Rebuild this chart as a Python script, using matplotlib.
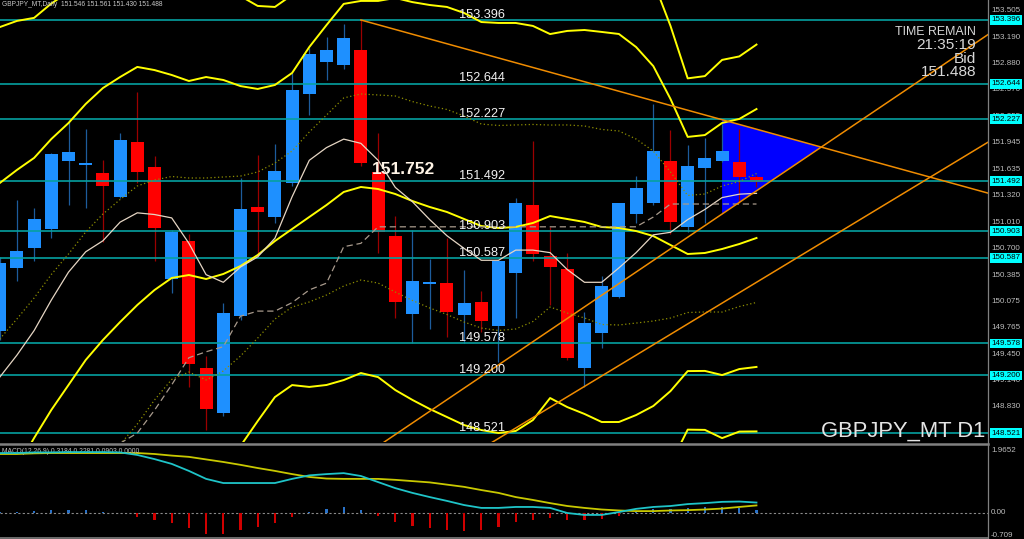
import matplotlib
matplotlib.use("Agg")
import matplotlib.pyplot as plt
from matplotlib import font_manager
from matplotlib.lines import Line2D
from matplotlib.patches import Polygon
import numpy as np

plt.rcParams["font.family"] = ["Liberation Sans", "DejaVu Sans"]
_names = {f.name for f in font_manager.fontManager.ttflist}
NARROW = "Liberation Sans Narrow" if "Liberation Sans Narrow" in _names else "Liberation Sans"

# ===================== PRICE DATA (GBPJPY daily, oldest first) =====================
opens = [149.725, 150.469, 150.705, 150.929, 151.731, 151.684, 151.590, 151.307, 151.956, 151.661,
         150.339, 150.787, 149.288, 148.757, 149.902, 151.189, 151.070, 151.472, 152.522, 152.900,
         152.865, 153.042, 151.602, 150.846, 149.925, 150.280, 150.291, 149.914, 150.067, 149.784,
         150.409, 151.212, 150.610, 150.456, 149.288, 149.701, 150.126, 151.106, 151.236, 151.731,
         150.953, 151.649, 151.731, 151.720, 151.546]
highs = [150.600, 151.271, 151.177, 151.826, 152.215, 152.109, 151.743, 152.062, 152.546, 151.791,
         150.917, 150.870, 149.430, 150.055, 151.531, 151.802, 151.932, 152.770, 153.065, 153.195,
         153.349, 153.396, 152.062, 151.082, 150.917, 150.575, 150.823, 150.445, 150.197, 150.560,
         151.295, 151.968, 150.953, 150.645, 149.949, 150.374, 151.240, 151.554, 152.404, 152.097,
         151.920, 152.003, 152.168, 152.109, 151.561]
lows = [149.620, 150.315, 150.551, 150.823, 151.212, 151.177, 150.775, 151.295, 151.472, 150.551,
        150.173, 149.064, 148.556, 148.720, 149.855, 150.598, 150.999, 151.436, 152.274, 152.688,
        152.818, 151.672, 150.645, 149.878, 149.583, 149.748, 149.654, 149.583, 149.713, 149.359,
        149.878, 150.551, 150.032, 149.382, 149.064, 149.528, 150.120, 150.999, 151.212, 150.870,
        150.893, 150.999, 151.720, 151.236, 151.430]
closes = [150.528, 150.669, 151.047, 151.814, 151.838, 151.708, 151.436, 151.979, 151.602, 150.941,
          150.893, 149.335, 148.804, 149.937, 151.165, 151.129, 151.614, 152.570, 152.994, 153.042,
          153.183, 151.708, 150.893, 150.067, 150.315, 150.303, 149.949, 150.055, 149.843, 150.551,
          151.236, 150.634, 150.480, 149.406, 149.819, 150.256, 151.236, 151.413, 151.850, 151.011,
          151.672, 151.767, 151.850, 151.543, 151.488]

bb_mid = [147.789, 148.108, 148.462, 148.793, 149.088, 149.383, 149.619, 149.831, 150.032, 150.209,
          150.351, 150.386, 150.339, 150.398, 150.492, 150.622, 150.787, 150.929, 151.071, 151.212,
          151.366, 151.425, 151.401, 151.342, 151.259, 151.189, 151.130, 151.047, 150.964, 150.941,
          150.953, 151.000, 151.082, 151.047, 151.012, 150.953, 150.941, 150.905, 150.846, 150.740,
          150.634, 150.646, 150.693, 150.752, 150.823]
bb_sd = [1.841, 1.759, 1.653, 1.599, 1.546, 1.511, 1.487, 1.446, 1.405, 1.298,
         1.198, 1.145, 1.192, 1.145, 1.062, 0.980, 0.921, 0.921, 1.003, 1.062,
         1.110, 1.098, 1.110, 1.157, 1.174, 1.192, 1.210, 1.216, 1.204, 1.210,
         1.204, 1.163, 1.074, 1.110, 1.133, 1.151, 1.145, 1.086, 1.003, 0.862,
         0.691, 0.696, 0.744, 0.738, 0.761]

tenkan = [149.18, 149.44, 149.73, 150.09, 150.42, 150.66, 150.79, 151.01, 151.12, 151.10,
          151.06, 150.76, 150.39, 150.30, 150.48, 150.60, 150.82, 151.31, 151.74, 151.89,
          151.99, 151.94, 151.74, 151.42, 151.25, 151.04, 150.85, 150.70, 150.56, 150.56,
          150.68, 150.68, 150.65, 150.45, 150.30, 150.30, 150.47, 150.65, 150.86, 150.89,
          151.04, 151.16, 151.30, 151.34, 151.35]
kijun_start = 7
kijun = [148.40, 148.52, 148.79, 149.09, 149.41, 149.48, 149.54, 149.90, 149.96, 149.96,
         150.06, 150.21, 150.29, 150.72, 150.76, 150.955, 150.955, 150.955, 150.955, 150.955,
         150.955, 150.955, 150.955, 150.955, 150.955, 150.955, 150.955, 150.955, 150.955, 150.955,
         150.955, 151.07, 151.224, 151.224, 151.224, 151.224, 151.224, 151.224]

levels = [153.396, 152.644, 152.227, 151.492, 150.903, 150.587, 149.578, 149.200, 148.521]
axis_ticks = [153.505, 153.190, 152.880, 152.570, 152.255, 151.945, 151.635, 151.320, 151.010,
              150.700, 150.385, 150.075, 149.765, 149.450, 149.140, 148.830]

# trend lines: two anchor points each (bar index, price)
res_line = ([21, 44], [153.396, 152.107])
sup_hi = ([22, 44], [148.366, 151.380])
sup_lo = ([29, 44], [148.457, 150.300])
triangle_from = 42

# MACD(12,26,9)
macd = [1.87, 1.87, 1.89, 1.89, 1.90, 1.90, 1.90, 1.89, 1.81, 1.68,
        1.53, 1.31, 1.06, 0.93, 0.93, 0.93, 0.93, 1.06, 1.17, 1.21,
        1.24, 1.15, 0.96, 0.77, 0.62, 0.49, 0.37, 0.24, 0.15, 0.15,
        0.18, 0.18, 0.15, -0.01, -0.07, -0.07, 0.02, 0.12, 0.18, 0.21,
        0.27, 0.30, 0.34, 0.35, 0.3184]
signal = [1.84, 1.84, 1.86, 1.87, 1.87, 1.87, 1.87, 1.87, 1.87, 1.84,
          1.79, 1.75, 1.67, 1.59, 1.50, 1.40, 1.31, 1.21, 1.12, 1.07,
          1.06, 1.06, 1.06, 1.03, 0.99, 0.95, 0.88, 0.81, 0.71, 0.62,
          0.49, 0.40, 0.30, 0.21, 0.15, 0.10, 0.07, 0.05, 0.05, 0.07,
          0.08, 0.10, 0.13, 0.18, 0.2281]
hist = [0.01, 0.02, 0.05, 0.09, 0.09, 0.08, 0.02, -0.01, -0.13, -0.23,
        -0.31, -0.48, -0.67, -0.67, -0.54, -0.44, -0.31, -0.13, 0.02, 0.12,
        0.19, 0.08, -0.10, -0.28, -0.42, -0.49, -0.54, -0.56, -0.54, -0.46,
        -0.28, -0.23, -0.18, -0.23, -0.23, -0.20, -0.10, 0.02, 0.11, 0.11,
        0.15, 0.18, 0.19, 0.16, 0.0903]
macd_ticks = [1.9652, 0.0, -0.709]

# ===================== FIGURE =====================
W, H = 1024, 539
XLIM = (0.017, 57.46)
fig = plt.figure(figsize=(W / 100, H / 100), dpi=100, facecolor="black")
ax = fig.add_axes([0, (H - 442) / H, 988 / W, 442 / H])
mx = fig.add_axes([0, 1 / H, 988 / W, 93 / H])
for a in (ax, mx):
    a.set_facecolor("black")
    a.set_xticks([])
    a.set_yticks([])
    for s in a.spines.values():
        s.set_visible(False)
    a.set_xlim(*XLIM)
ax.set_ylim(148.415, 153.632)
mx.set_ylim(-0.793, 2.122)

idx = np.arange(len(opens))
o, h, l, c = map(np.array, (opens, highs, lows, closes))
up = c >= o

# ===================== CANDLES =====================
wick_col = np.where(up, "#1d5c9c", "#9c0000")
body_col = np.where(up, "#1e90ff", "#ff0000")
ax.vlines(idx, l, h, colors=wick_col, lw=0.9, zorder=3)
ax.bar(idx, np.maximum(np.abs(c - o), 0.014), bottom=np.minimum(o, c),
       width=0.75, color=body_col, linewidth=0, zorder=4)

# ===================== BOLLINGER =====================
mid = np.array(bb_mid)
sd = np.array(bb_sd)
ax.plot(idx, mid, color="#ffff00", lw=1.4, zorder=6)
for k in (2, 3):
    ax.plot(idx, mid + k * sd, color="#ffff00", lw=1.4, zorder=6)
    ax.plot(idx, mid - k * sd, color="#ffff00", lw=1.4, zorder=6)
for k in (1, -1):
    ax.plot(idx, mid + k * sd, color="#8f8f00", lw=0.9, ls=(0, (1, 2)), zorder=6)

# ===================== ICHIMOKU-LIKE LINES =====================
ax.plot(idx, tenkan, color="#e6d6c4", lw=0.9, zorder=6)
ax.plot(np.arange(kijun_start, kijun_start + len(kijun)), kijun,
        color="#a89a8c", lw=0.9, ls=(0, (5, 3)), zorder=6)

# ===================== HORIZONTAL LEVELS =====================
for lv in levels:
    ax.axhline(lv, color="#06a0a0", lw=1.2, zorder=5)
    ax.annotate(f"{lv:.3f}", (26.70, lv), xytext=(0, 1.6), textcoords="offset points",
                color="#f2f2f2", fontsize=9.2, va="baseline", ha="left", zorder=9)

# ===================== TREND LINES + TRIANGLE =====================
def line_at(pts, x):
    (x0, x1), (y0, y1) = pts
    return y0 + (y1 - y0) * (x - x0) / (x1 - x0)

xe = XLIM[1]
ax.plot([res_line[0][0], xe], [res_line[1][0], line_at(res_line, xe)],
        color="#f08c00", lw=1.1, zorder=7)
for pts in (sup_hi, sup_lo):
    ax.plot([0, xe], [line_at(pts, 0), line_at(pts, xe)], color="#f08c00", lw=1.1, zorder=7)

# apex where the falling and rising lines meet
s1 = (res_line[1][1] - res_line[1][0]) / (res_line[0][1] - res_line[0][0])
s2 = (sup_hi[1][1] - sup_hi[1][0]) / (sup_hi[0][1] - sup_hi[0][0])
xa = (line_at(sup_hi, 0) - line_at(res_line, 0)) / (s1 - s2)
tri = Polygon([(triangle_from, line_at(res_line, triangle_from)),
               (xa, line_at(res_line, xa)),
               (triangle_from, line_at(sup_hi, triangle_from))],
              closed=True, facecolor="#0000ff", edgecolor="none", zorder=2)
ax.add_patch(tri)

# ===================== TEXTS =====================
ax.text(21.61, 151.637, "151.752", color="#fff4e6", fontsize=12.5, fontweight="bold",
        va="center", ha="left", zorder=9)
fig.text(2 / W, 1 - 4.5 / H, "GBPJPY_MT,Daily  151.546 151.561 151.430 151.488",
         color="#c8c8c8", fontsize=4.8, va="center", ha="left")
fig.text(976 / W, 1 - 32 / H, "TIME REMAIN", color="#d8d8d8",
         fontsize=8.9 if NARROW == "Liberation Sans" else 10.8,
         family=NARROW, va="center", ha="right")
fig.text(976 / W, 1 - 45 / H, "21:35:19", color="#d8d8d8", fontsize=11.1, va="center", ha="right")
fig.text(976 / W, 1 - 59 / H, "Bid", color="#d8d8d8", fontsize=11.1, va="center", ha="right")
fig.text(976 / W, 1 - 72 / H, "151.488", color="#d8d8d8", fontsize=11.1, va="center", ha="right")
fig.text(985 / W, 1 - 431 / H, "GBPJPY_MT D1", color="#e4e4e4", fontsize=15.8, va="center", ha="right")

# right price scale
ytr = ax.get_yaxis_transform()
for t in axis_ticks:
    ax.text(1.0035, t, f"{t:.3f}", transform=ytr, color="#bdbdbd", fontsize=5.8,
            va="center", ha="left", clip_on=False, zorder=10)
for lv in levels:
    ax.text(1.0035, lv, f"{lv:.3f}", transform=ytr, color="black", fontsize=5.8,
            va="center", ha="left", clip_on=False, zorder=11,
            bbox=dict(boxstyle="square,pad=0.18", fc="#00ffff", ec="none"))

# ===================== MACD PANEL =====================
hv = np.array(hist)
mx.bar(idx, hv, width=0.13, color=np.where(hv >= 0, "#2a72c8", "#d00000"), linewidth=0, zorder=2)
mx.axhline(0, color="#8a8a8a", lw=0.8, ls=(0, (2, 2)), zorder=1)
mx.plot(idx, signal, color="#c8c800", lw=1.3, zorder=3)
mx.plot(idx, macd, color="#1fc4c8", lw=1.3, zorder=4)
mx.text(2 / 988, 0.93, "MACD(12,26,9) 0.3184 0.2281 0.0903 0.0000", transform=mx.transAxes,
        color="#c0c0c0", fontsize=4.9, va="center", ha="left")
mtr = mx.get_yaxis_transform()
for t, lab in zip(macd_ticks, ["1.9652", "0.00", "-0.709"]):
    mx.text(1.003, t, lab, transform=mtr, color="#bdbdbd", fontsize=5.8,
            va="center", ha="left", clip_on=False)

# panel borders
fig.add_artist(Line2D([0, 988 / W], [(H - 443.5) / H] * 2, color="#808080", lw=1.8))
fig.add_artist(Line2D([0, 988 / W], [(H - 538) / H] * 2, color="#808080", lw=1.2))
fig.add_artist(Line2D([988 / W] * 2, [0, 1], color="#808080", lw=0.9))

fig.savefig("out.png", dpi=100, facecolor="black")
